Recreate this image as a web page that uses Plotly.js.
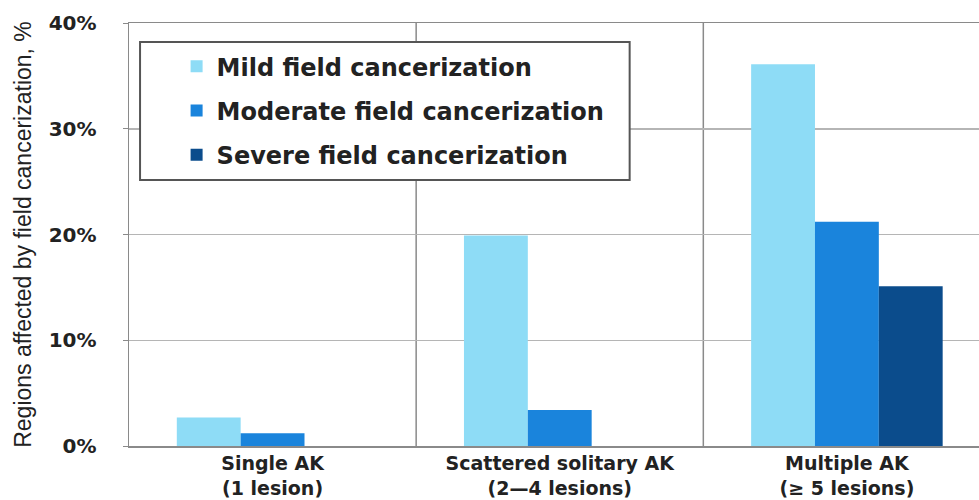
<!DOCTYPE html>
<html>
<head>
<meta charset="utf-8">
<script src="https://cdn.plot.ly/plotly-3.0.1.min.js"></script>
<style>
html,body{margin:0;padding:0;background:#fff;}
#chart{width:979px;height:500px;}
</style>
</head>
<body>
<div id="chart"></div>
<script>
var categories = ["Single AK<br>(1 lesion)", "Scattered solitary AK<br>(2\u20144 lesions)", "Multiple AK<br>(\u2265 5 lesions)"];
var seriesNames = ["Mild field cancerization", "Moderate field cancerization", "Severe field cancerization"];
var mildValues = [2.7, 19.9, 36.1];
var moderateValues = [1.2, 3.4, 21.2];
var severeValues = [0, 0, 15.1];
var yTickValues = [0, 10, 20, 30, 40];
var yTickLabels = ["0%", "10%", "20%", "30%", "40%"];
var colors = ["#8edcf6", "#1a84dc", "#0b4c8c"];

var allValues = [mildValues, moderateValues, severeValues];
var xIdx = categories.map(function(c, i){ return i; });
var traces = allValues.map(function(vals, k){
  return {
    type: "bar",
    x: xIdx,
    y: vals,
    name: seriesNames[k],
    legendgroup: "g" + k,
    marker: {color: colors[k], line: {width: 0}},
    hoverinfo: "skip"
  };
});

var shapes = [];
for (var i = 1; i < categories.length; i++) {
  shapes.push({type: "line", xref: "x", yref: "paper", x0: i - 0.5, x1: i - 0.5, y0: 0, y1: 1,
    line: {color: "#8a8a8a", width: 1.5}, layer: "below"});
}
shapes.push({type: "rect", xref: "paper", yref: "paper", x0: 0.013, x1: 0.589, y0: 0.629, y1: 0.955,
  line: {color: "#555", width: 2}, fillcolor: "rgba(255,255,255,1)", layer: "above"});

var layout = {
  width: 979, height: 500,
  margin: {l: 129, r: 0, t: 23, b: 54},
  paper_bgcolor: "#fff", plot_bgcolor: "#fff",
  barmode: "group", bargap: 0.333, bargroupgap: 0,
  showlegend: true,
  legend: {x: 0.056, y: 0.95, xanchor: "left", yanchor: "top", bgcolor: "rgba(0,0,0,0)", borderwidth: 0,
    font: {family: "DejaVu Sans", size: 24, color: "#222", weight: "bold"}, tracegroupgap: 10, traceorder: "grouped"},
  xaxis: {
    range: [-0.5, 2.46], tickmode: "array", tickvals: xIdx, ticktext: categories,
    showgrid: false, zeroline: false, showline: true, mirror: true, linecolor: "#8a8a8a", linewidth: 1.5,
    ticks: "", tickfont: {family: "DejaVu Sans", size: 19, color: "#222", weight: "bold"}, fixedrange: true
  },
  yaxis: {
    range: [0, 40], tickmode: "array", tickvals: yTickValues, ticktext: yTickLabels,
    showgrid: true, gridcolor: "#b5b5b5", gridwidth: 1.5, zeroline: false,
    showline: true, linecolor: "#8a8a8a", linewidth: 1.5,
    ticks: "outside", ticklen: 5, tickcolor: "#8a8a8a", ticklabelstandoff: 22,
    tickfont: {family: "DejaVu Sans", size: 20, color: "#222", weight: "bold"},
    title: {text: "Regions affected by field cancerization, %", font: {family: "Liberation Sans", size: 23, color: "#222"}, standoff: 10},
    fixedrange: true
  },
  shapes: shapes
};

Plotly.newPlot("chart", traces, layout, {displayModeBar: false, staticPlot: true});
</script>
</body>
</html>
